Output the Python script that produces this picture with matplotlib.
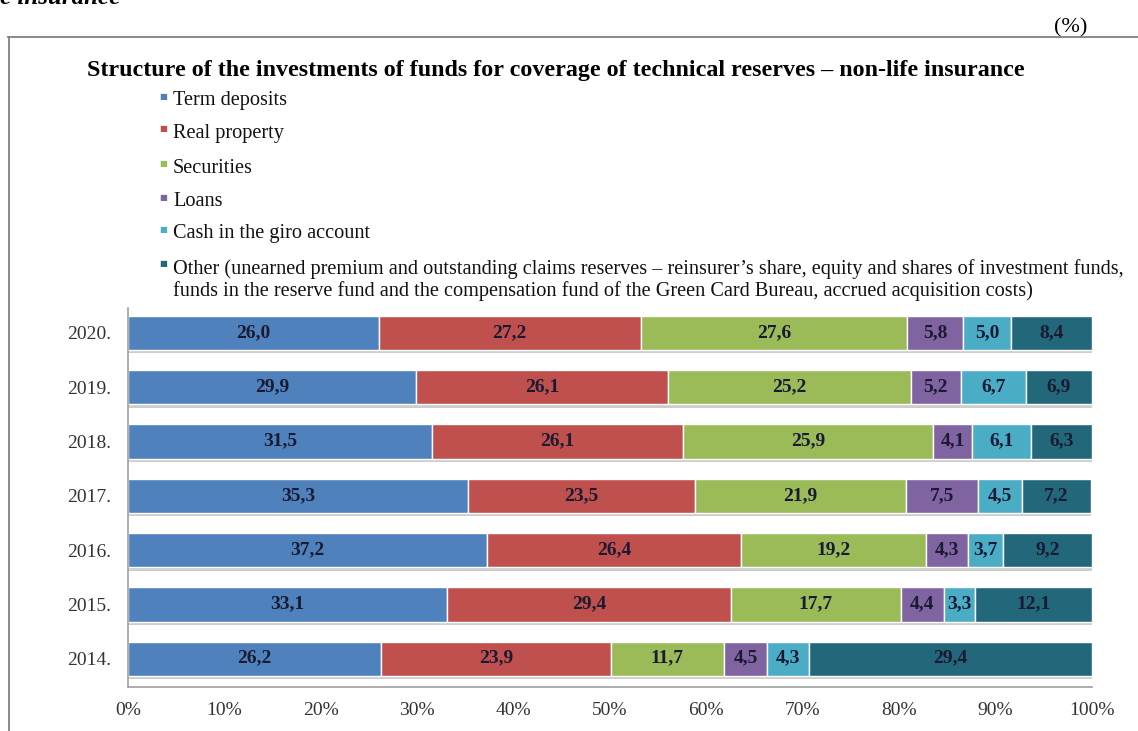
import numpy as np
import matplotlib.pyplot as plt
from matplotlib.lines import Line2D

plt.rcParams['font.family'] = ['Liberation Serif', 'DejaVu Serif']

years = ['2014.', '2015.', '2016.', '2017.', '2018.', '2019.', '2020.']

term_deposits = [26.2, 33.1, 37.2, 35.3, 31.5, 29.9, 26.0]
real_property = [23.9, 29.4, 26.4, 23.5, 26.1, 26.1, 27.2]
securities = [11.7, 17.7, 19.2, 21.9, 25.9, 25.2, 27.6]
loans = [4.5, 4.4, 4.3, 7.5, 4.1, 5.2, 5.8]
cash_giro = [4.3, 3.3, 3.7, 4.5, 6.1, 6.7, 5.0]
other = [29.4, 12.1, 9.2, 7.2, 6.3, 6.9, 8.4]

names = ['Term deposits', 'Real property', 'Securities', 'Loans',
         'Cash in the giro account',
         'Other (unearned premium and outstanding claims reserves \u2013 reinsurer\u2019s share, equity and shares of investment funds,\n'
         'funds in the reserve fund and the compensation fund of the Green Card Bureau, accrued acquisition costs)']
colors = ['#4f81bd', '#c0504d', '#9bbb59', '#8064a2', '#4bacc6', '#23677a']
series = [term_deposits, real_property, securities, loans, cash_giro, other]

fig = plt.figure(figsize=(11.38, 7.31), dpi=100)
ax = fig.add_axes([0.1125, 0.0602, 0.8471, 0.5185])

y = np.arange(len(years))
barh = 0.63

# grey drop shadow under each bar
totals = np.sum(series, axis=0)
ax.barh(y - 0.06, totals, height=barh, color='#cdcdcd', zorder=1)

left = np.zeros(len(years))
for vals, col in zip(series, colors):
    vals = np.array(vals)
    ax.barh(y, vals, left=left, height=barh, color=col, edgecolor='white',
            linewidth=1, zorder=2)
    for yi, (l, v) in enumerate(zip(left, vals)):
        ax.text(l + v / 2, yi + 0.01, f'{v:.1f}'.replace('.', ','),
                ha='center', va='center', fontsize=14, fontweight='bold',
                color='#1a1a33', zorder=3)
    left += vals

ax.set_xlim(0, 100)
ax.set_ylim(-0.52, 6.46)
ax.set_xticks(np.arange(0, 101, 10))
ax.set_xticklabels([f'{t}%' for t in range(0, 101, 10)])
ax.set_yticks(y)
ax.set_yticklabels(years)
ax.tick_params(length=0, labelsize=14, labelcolor='#333333')
ax.tick_params(axis='x', pad=11)
ax.tick_params(axis='y', pad=12)
for s in ['top', 'right']:
    ax.spines[s].set_visible(False)
for s in ['left', 'bottom']:
    ax.spines[s].set_color('#a0a0a0')
    ax.spines[s].set_linewidth(1.2)

# frame around the chart
fig.add_artist(Line2D([0.007, 1.0], [0.9494, 0.9494], color='#808080', lw=1.3))
fig.add_artist(Line2D([0.0079, 0.0079], [0.0, 0.9494], color='#808080', lw=1.3))

fig.text(0.0, 1 - 4 / 731, 'e insurance', fontsize=18, fontweight='bold',
         fontstyle='italic', va='baseline', ha='left')
fig.text(0.941, 0.962, '(%)', fontsize=16, ha='center', va='center')

fig.text(0.4886, 0.904,
         'Structure of the investments of funds for coverage of technical reserves \u2013 non-life insurance',
         fontsize=17.3, fontweight='bold', ha='center', va='center')

# legend drawn by hand, one entry per line
leg_y = [0.862, 0.818, 0.770, 0.724, 0.680, 0.633]
for ly, name, col in zip(leg_y, names, colors):
    fig.text(0.1432, ly + 0.006, '\u25a0', color=col, fontsize=6,
             ha='center', va='center', family='DejaVu Sans')
    if '\n' in name:
        fig.text(0.152, ly + 0.012, name, fontsize=14.6, ha='left', va='top',
                 linespacing=1.1, color='#111111')
    else:
        fig.text(0.152, ly, name, fontsize=14.6, ha='left', va='center',
                 color='#111111')

fig.savefig('out.png', dpi=100)
